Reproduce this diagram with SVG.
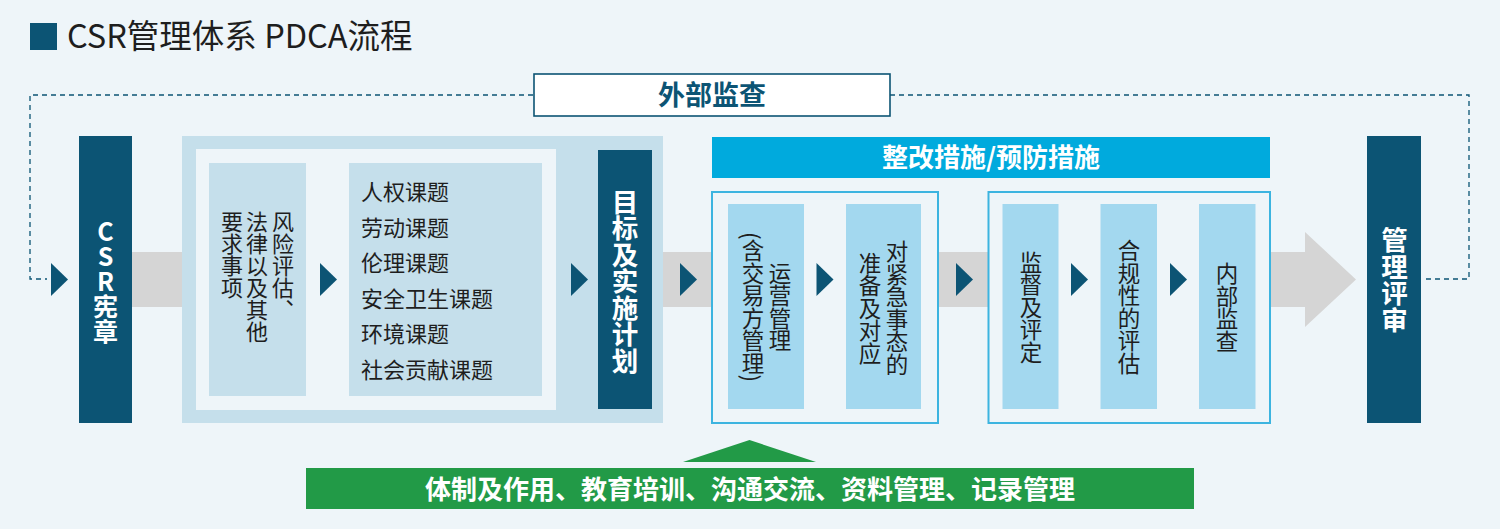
<svg xmlns="http://www.w3.org/2000/svg" width="1500" height="529" viewBox="0 0 1500 529">
<style>
text { font-family: "Noto Sans CJK SC", "Noto Sans", sans-serif; }
.title { font-size: 32.5px; fill: #1e1e1e; }
.dark { fill: #0c5474; }
.tri { fill: #0c5474; }
.lb { fill: #c5dfeb; }
.cb { fill: #a3d8ef; }
.ob { fill: #eef5f9; stroke: #3cb4e0; stroke-width: 2; }
.v { writing-mode: vertical-rl; }
.up { text-orientation: upright; }
.vt { font-size: 22.5px; fill: #1e1e1e; text-anchor: middle; }
.vs { font-size: 22px; fill: #1e1e1e; text-anchor: start; }
.vw { font-weight: bold; fill: #ffffff; text-anchor: middle; }
.topic { font-size: 22px; fill: #1e1e1e; }
.dash { fill: none; stroke: #0c5474; stroke-width: 1.3; stroke-dasharray: 5 4; }
.wb { font-weight: bold; fill: #ffffff; text-anchor: middle; }
</style>
<rect x="0" y="0" width="1500" height="529" fill="#eef5f9"/>

<g id="title">
  <rect x="30" y="23" width="27" height="27" class="dark"/>
  <text x="67" y="48" class="title">CSR管理体系 PDCA流程</text>
</g>

<g id="connectors">
  <path class="dash" d="M533,95 H30 V279 H47"/>
  <path class="dash" d="M890,95 H1469 V279 H1422"/>
  <polygon points="132,252 1305,252 1305,232 1356,279.5 1305,327 1305,307 132,307" fill="#d5d5d5"/>
</g>

<g id="external-audit">
  <rect x="534" y="74" width="356" height="42" fill="#ffffff" stroke="#0c5474" stroke-width="1.6"/>
  <text x="712" y="105" font-size="27" font-weight="bold" text-anchor="middle" class="dark">外部监查</text>
</g>

<g id="csr-charter">
  <rect x="79" y="136" width="53" height="287" class="dark"/>
  <text x="105.5" y="281" font-size="25" class="v up vw">CSR宪章</text>
</g>

<g id="plan-block">
  <rect x="182" y="136" width="481" height="287" class="lb"/>
  <rect x="196" y="149" width="360" height="261" fill="#eef5f9"/>
</g>

<g id="risk-assessment">
  <rect x="209" y="163" width="97" height="233" class="lb"/>
  <text x="283" y="211" class="v vs">风险评估、</text>
  <text x="257" y="211" class="v vs">法律以及其他</text>
  <text x="232" y="211" class="v vs">要求事项</text>
</g>

<g id="topics">
  <rect x="349" y="163" width="193" height="233" class="lb"/>
  <text x="361" y="200" class="topic">人权课题</text>
  <text x="361" y="235.6" class="topic">劳动课题</text>
  <text x="361" y="271.2" class="topic">伦理课题</text>
  <text x="361" y="306.8" class="topic">安全卫生课题</text>
  <text x="361" y="342.4" class="topic">环境课题</text>
  <text x="361" y="378" class="topic">社会贡献课题</text>
</g>

<g id="objectives">
  <rect x="598" y="150" width="54" height="259" class="dark"/>
  <text x="625" y="281" font-size="26.5" class="v vw">目标及实施计划</text>
</g>

<g id="corrective">
  <rect x="712" y="137" width="558" height="41" fill="#00aadd"/>
  <text x="991" y="167" font-size="26" class="wb">整改措施/预防措施</text>
</g>

<g id="do-group">
  <rect x="712" y="192" width="226" height="231" class="ob"/>
</g>
<g id="operation">
  <rect x="728" y="204" width="76" height="205" class="cb"/>
  <text x="780" y="307" class="v vt">运营管理</text>
  <text x="753" y="307" class="v vt">(含交易方管理)</text>
</g>
<g id="emergency">
  <rect x="846" y="204" width="75" height="205" class="cb"/>
  <text x="897" y="308" class="v vt">对紧急事态的</text>
  <text x="870" y="308" class="v vt">准备及对应</text>
</g>

<g id="check-group">
  <rect x="988.5" y="192" width="281.5" height="231" class="ob"/>
</g>
<g id="monitoring">
  <rect x="1002.5" y="204" width="56" height="205" class="cb"/>
  <text x="1031" y="307" class="v vt">监督及评定</text>
</g>
<g id="compliance">
  <rect x="1100.5" y="204" width="56.5" height="205" class="cb"/>
  <text x="1129" y="307" class="v vt">合规性的评估</text>
</g>
<g id="internal-audit">
  <rect x="1199" y="204" width="56.5" height="205" class="cb"/>
  <text x="1227" y="307.5" class="v vt">内部监查</text>
</g>

<g id="management-review">
  <rect x="1367" y="136" width="54" height="287" class="dark"/>
  <text x="1394.5" y="280" font-size="26.5" class="v vw">管理评审</text>
</g>

<g id="arrowheads">
  <polygon class="tri" points="51,263 68,279.5 51,296"/>
  <polygon class="tri" points="320,263 337,279.5 320,296"/>
  <polygon class="tri" points="571,263 588,279.5 571,296"/>
  <polygon class="tri" points="680,263 697,279.5 680,296"/>
  <polygon class="tri" points="816.5,263 833.5,279.5 816.5,296"/>
  <polygon class="tri" points="956,263 973,279.5 956,296"/>
  <polygon class="tri" points="1071,263 1088,279.5 1071,296"/>
  <polygon class="tri" points="1170,263 1187,279.5 1170,296"/>
  <polygon points="683,462 749.5,440 816,462" fill="#229a47"/>
</g>

<g id="support">
  <rect x="306" y="468" width="888" height="41" fill="#229a47"/>
  <text x="750" y="499" font-size="26" class="wb">体制及作用、教育培训、沟通交流、资料管理、记录管理</text>
</g>
</svg>
